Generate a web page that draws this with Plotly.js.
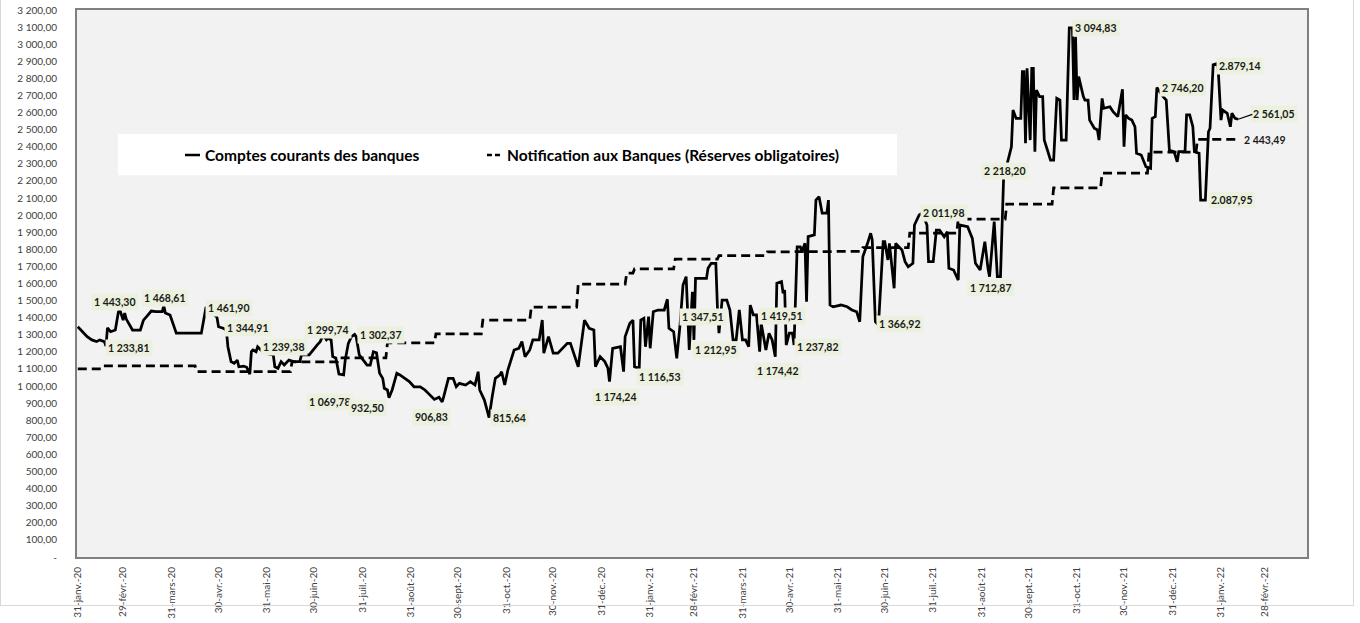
<!DOCTYPE html>
<html>
<head>
<meta charset="utf-8">
<script src="https://cdn.plot.ly/plotly-3.0.1.min.js"></script>
<style>
  html, body { margin: 0; padding: 0; background: #ffffff; }
  #wrap { position: relative; width: 1360px; height: 623px; }
  #chart { width: 1360px; height: 623px; }
  #frame { position: absolute; left: 0; top: -1px; width: 1352px; height: 605px;
           border: 1px solid #d9d9d9; pointer-events: none; }
</style>
</head>
<body>
<div id="wrap">
  <div id="chart"></div>
  <div id="frame"></div>
</div>
<script>
// ---- Comptes courants des banques (MD) ----
const ccDates = [
"2020-01-31","2020-02-02","2020-02-06","2020-02-09","2020-02-12","2020-02-14","2020-02-17","2020-02-18","2020-02-19","2020-02-21",
"2020-02-24","2020-02-26","2020-02-27","2020-02-29","2020-03-01","2020-03-02","2020-03-05","2020-03-06","2020-03-11","2020-03-13",
"2020-03-15","2020-03-18","2020-03-21","2020-03-25","2020-03-26","2020-03-27","2020-03-30","2020-04-01","2020-04-03","2020-04-19",
"2020-04-21","2020-04-22","2020-04-29","2020-04-30","2020-05-03","2020-05-05","2020-05-06","2020-05-08","2020-05-10","2020-05-12",
"2020-05-13","2020-05-16","2020-05-18","2020-05-20","2020-05-21","2020-05-22","2020-05-24","2020-05-25","2020-05-27","2020-05-29",
"2020-06-01","2020-06-04","2020-06-05","2020-06-07","2020-06-09","2020-06-11","2020-06-14","2020-06-17","2020-06-21","2020-06-22",
"2020-06-27","2020-06-30","2020-07-02","2020-07-04","2020-07-06","2020-07-08","2020-07-09","2020-07-11","2020-07-12","2020-07-14",
"2020-07-16","2020-07-19","2020-07-20","2020-07-22","2020-07-24","2020-07-26","2020-07-27","2020-07-29","2020-08-01","2020-08-03",
"2020-08-05","2020-08-07","2020-08-09","2020-08-11","2020-08-13","2020-08-14","2020-08-16","2020-08-17","2020-08-19","2020-08-22",
"2020-08-24","2020-08-27","2020-08-30","2020-09-02","2020-09-06","2020-09-09","2020-09-13","2020-09-15","2020-09-18","2020-09-20",
"2020-09-21","2020-09-24","2020-09-27","2020-09-29","2020-10-01","2020-10-05","2020-10-08","2020-10-11","2020-10-13","2020-10-14",
"2020-10-17","2020-10-20","2020-10-22","2020-10-24","2020-10-27","2020-10-28","2020-10-30","2020-11-01","2020-11-05","2020-11-08",
"2020-11-10","2020-11-12","2020-11-15","2020-11-17","2020-11-21","2020-11-23","2020-11-24","2020-11-27","2020-11-30","2020-12-03",
"2020-12-09","2020-12-11","2020-12-16","2020-12-20","2020-12-23","2020-12-26","2020-12-27","2020-12-30","2021-01-02","2021-01-04",
"2021-01-05","2021-01-07","2021-01-12","2021-01-14","2021-01-15","2021-01-18","2021-01-20","2021-01-21","2021-01-24","2021-01-25",
"2021-01-27","2021-01-28","2021-01-30","2021-01-31","2021-02-02","2021-02-05","2021-02-09","2021-02-11","2021-02-12","2021-02-15",
"2021-02-17","2021-02-19","2021-02-21","2021-02-23","2021-02-25","2021-02-27","2021-02-28","2021-03-01","2021-03-08","2021-03-09",
"2021-03-11","2021-03-14","2021-03-15","2021-03-16","2021-03-18","2021-03-21","2021-03-23","2021-03-25","2021-03-27","2021-03-29",
"2021-03-31","2021-04-02","2021-04-04","2021-04-05","2021-04-07","2021-04-09","2021-04-11","2021-04-12","2021-04-15","2021-04-17",
"2021-04-19","2021-04-21","2021-04-22","2021-04-25","2021-04-26","2021-04-27","2021-04-28","2021-04-30","2021-05-02","2021-05-03",
"2021-05-05","2021-05-07","2021-05-08","2021-05-10","2021-05-11","2021-05-12","2021-05-16","2021-05-17","2021-05-19","2021-05-21",
"2021-05-24","2021-05-25","2021-05-26","2021-05-28","2021-06-02","2021-06-06","2021-06-09","2021-06-12","2021-06-14","2021-06-16",
"2021-06-19","2021-06-21","2021-06-22","2021-06-24","2021-06-26","2021-06-29","2021-06-30","2021-07-02","2021-07-03","2021-07-06",
"2021-07-07","2021-07-09","2021-07-11","2021-07-13","2021-07-15","2021-07-18","2021-07-19","2021-07-22","2021-07-24","2021-07-27",
"2021-07-28","2021-07-31","2021-08-02","2021-08-04","2021-08-07","2021-08-09","2021-08-10","2021-08-13","2021-08-16","2021-08-17",
"2021-08-22","2021-08-25","2021-08-27","2021-08-30","2021-09-02","2021-09-04","2021-09-05","2021-09-08","2021-09-10","2021-09-12",
"2021-09-13","2021-09-14","2021-09-19","2021-09-20","2021-09-22","2021-09-25","2021-09-26","2021-09-27","2021-09-28","2021-09-29",
"2021-10-01","2021-10-02","2021-10-03","2021-10-04","2021-10-05","2021-10-07","2021-10-09","2021-10-10","2021-10-12","2021-10-14",
"2021-10-16","2021-10-18","2021-10-20","2021-10-21","2021-10-24","2021-10-25","2021-10-26","2021-10-28","2021-10-29","2021-10-30",
"2021-10-31","2021-11-01","2021-11-04","2021-11-05","2021-11-07","2021-11-08","2021-11-11","2021-11-13","2021-11-14","2021-11-16",
"2021-11-17","2021-11-21","2021-11-23","2021-11-26","2021-11-29","2021-11-30","2021-12-01","2021-12-03","2021-12-05","2021-12-07",
"2021-12-08","2021-12-11","2021-12-13","2021-12-14","2021-12-17","2021-12-18","2021-12-20","2021-12-21","2021-12-25","2021-12-27",
"2021-12-29","2022-01-01","2022-01-03","2022-01-04","2022-01-08","2022-01-09","2022-01-11","2022-01-13","2022-01-14","2022-01-17",
"2022-01-18","2022-01-21","2022-01-23","2022-01-24","2022-01-26","2022-01-29","2022-01-31","2022-02-01","2022-02-04","2022-02-06",
"2022-02-07","2022-02-09","2022-02-11"
];
const ccValues = [
1347,1328,1289,1270,1260,1270,1260,1234,1340,1318,
1328,1435,1443,1386,1427,1392,1347,1328,1328,1386,
1406,1439,1435,1435,1469,1427,1416,1357,1309,1309,
1427,1462,1402,1347,1338,1328,1230,1143,1133,1152,
1113,1117,1110,1070,1201,1211,1201,1230,1211,1239,
1188,1182,1113,1104,1143,1123,1152,1143,1143,1182,
1182,1221,1240,1260,1300,1270,1279,1270,1172,1164,
1070,1065,1152,1250,1289,1302,1289,1182,1143,1123,
1123,1201,1195,1075,1045,987,977,932,977,1075,
1065,1045,1026,996,996,977,938,922,934,907,
938,1045,1045,996,1016,1006,1026,1006,1084,977,
918,816,938,1045,1065,1084,1006,1094,1211,1221,
1260,1172,1211,1270,1270,1386,1192,1289,1192,1192,
1250,1250,1113,1386,1338,1328,1113,1172,1143,1104,
1026,1221,1230,1084,1289,1367,1386,1113,1104,1386,
1396,1230,1406,1221,1435,1445,1445,1508,1338,1318,
1162,1347,1591,1640,1211,1552,1270,1630,1630,1689,
1718,1718,1464,1309,1503,1503,1445,1270,1270,1445,
1270,1270,1230,1474,1416,1416,1201,1367,1211,1309,
1270,1172,1601,1611,1543,1562,1240,1309,1309,1240,
1815,1815,1786,1835,1493,1874,1884,2088,2108,2011,
2011,2088,1474,1464,1474,1464,1445,1435,1376,1757,
1835,1894,1855,1376,1357,1845,1845,1738,1835,1572,
1835,1815,1796,1728,1698,1718,1942,2001,2012,1942,
1728,1728,1913,1913,1874,1903,1689,1679,1620,1942,
1932,1864,1718,1679,1845,1689,1640,1962,1640,1640,
1932,2218,2400,2615,2566,2566,2839,2839,2420,2859,
2439,2859,2859,2371,2732,2693,2693,2439,2381,2322,
2322,2683,2673,2439,2439,2810,3095,3095,2673,3044,
2673,2810,2693,2673,2673,2556,2508,2498,2439,2683,
2625,2634,2605,2576,2736,2400,2586,2566,2556,2517,
2362,2352,2303,2283,2274,2566,2576,2746,2693,2673,
2381,2371,2312,2371,2371,2586,2586,2517,2371,2362,
2088,2088,2488,2508,2879,2888,2556,2615,2596,2517,
2596,2566,2561
];

// ---- Notification aux Banques (Réserves obligatoires) ----
const nrDates = [
"2020-01-31","2020-02-15","2020-02-16","2020-04-15","2020-04-16","2020-06-15","2020-06-16","2020-07-15",
"2020-07-16","2020-08-15","2020-08-16","2020-09-15","2020-09-16","2020-10-15","2020-10-16","2020-11-15",
"2020-11-16","2020-12-15","2020-12-16","2021-01-15","2021-01-16","2021-01-20","2021-01-21","2021-02-15",
"2021-02-16","2021-03-15","2021-03-16","2021-04-15","2021-04-16","2021-06-15","2021-06-16","2021-07-15",
"2021-07-16","2021-08-15","2021-08-16","2021-09-15","2021-09-16","2021-10-15","2021-10-16","2021-11-15",
"2021-11-16","2021-12-15","2021-12-16","2022-01-15","2022-01-16","2022-02-11"
];
const nrValues = [
1100,1100,1118,1118,1085,1085,1142,1142,
1165,1165,1252,1252,1305,1305,1386,1386,
1462,1462,1597,1597,1661,1661,1685,1685,
1743,1743,1763,1763,1785,1788,1810,1810,
1895,1895,1977,1977,2065,2065,2159,2159,
2246,2246,2369,2369,2443.49,2443.49
];

// ---- Series names ----
const seriesNames = ["Comptes courants des banques", "Notification aux Banques (Réserves obligatoires)"];

// ---- Axis ticks ----
const xTickDates = ["2020-01-31","2020-02-29","2020-03-31","2020-04-30","2020-05-31","2020-06-30","2020-07-31",
  "2020-08-31","2020-09-30","2020-10-31","2020-11-30","2020-12-31","2021-01-31","2021-02-28","2021-03-31",
  "2021-04-30","2021-05-31","2021-06-30","2021-07-31","2021-08-31","2021-09-30","2021-10-31","2021-11-30",
  "2021-12-31","2022-01-31","2022-02-28"];
const xTickLabels = ["31-janv.-20","29-févr.-20","31-mars-20","30-avr.-20","31-mai-20","30-juin-20","31-juil.-20",
  "31-août-20","30-sept.-20","31-oct.-20","30-nov.-20","31-déc.-20","31-janv.-21","28-févr.-21","31-mars-21",
  "30-avr.-21","31-mai-21","30-juin-21","31-juil.-21","31-août-21","30-sept.-21","31-oct.-21","30-nov.-21",
  "31-déc.-21","31-janv.-22","28-févr.-22"];
const yTickValues = [0,100,200,300,400,500,600,700,800,900,1000,1100,1200,1300,1400,1500,1600,1700,1800,1900,
  2000,2100,2200,2300,2400,2500,2600,2700,2800,2900,3000,3100,3200];
const yTickLabels = ["-","100,00","200,00","300,00","400,00","500,00","600,00","700,00","800,00","900,00",
  "1 000,00","1 100,00","1 200,00","1 300,00","1 400,00","1 500,00","1 600,00","1 700,00","1 800,00","1 900,00",
  "2 000,00","2 100,00","2 200,00","2 300,00","2 400,00","2 500,00","2 600,00","2 700,00","2 800,00","2 900,00",
  "3 000,00","3 100,00","3 200,00"];

// ---- Data labels ----
const labelTexts = ["1 443,30","1 468,61","1 233,81","1 461,90","1 344,91","1 239,38","1 299,74","1 069,78",
  "932,50","1 302,37","906,83","815,64","1 174,24","1 116,53","1 347,51","1 212,95","1 419,51","1 174,42",
  "1 237,82","1 366,92","2 011,98","1 712,87","2 218,20","3 094,83","2 746,20","2.879,14","2 561,05","2 443,49","2.087,95"];
const labelDates = ["2020-02-24","2020-03-27","2020-03-04","2020-05-07","2020-05-19","2020-06-11","2020-07-09","2020-07-10",
  "2020-08-03","2020-08-12","2020-09-13","2020-11-02","2021-01-09","2021-02-06","2021-03-06","2021-03-14","2021-04-25","2021-04-23",
  "2021-05-18","2021-07-10","2021-08-07","2021-09-06","2021-09-15","2021-11-12","2022-01-07","2022-02-12","2022-03-06","2022-02-28","2022-02-07"];
const labelValues = [1492,1515,1223,1457,1340,1229,1328,907,
  872,1299,819,813,936,1053,1404,1211,1410,1088,
  1229,1363,2012,1574,2258,3095,2744,2872,2592,2439,2088];
const labelNoBg = ["2 443,49"];

const FONT = "Lato, 'Open Sans', sans-serif";

const traces = [
  { type: "scatter", mode: "lines", name: seriesNames[0],
    x: ccDates, y: ccValues, line: { color: "#000000", width: 2.75 }, hoverinfo: "x+y" },
  { type: "scatter", mode: "lines", name: seriesNames[1],
    x: nrDates, y: nrValues, line: { color: "#000000", width: 2.75, dash: "9px,5px" }, hoverinfo: "x+y" }
];

const annotations = labelTexts.map((t, i) => ({
  x: labelDates[i], y: labelValues[i], xref: "x", yref: "y", text: t, showarrow: false,
  font: { family: FONT, size: 10.5, color: "#1a1a1a", weight: 700 },
  bgcolor: labelNoBg.includes(t) ? "rgba(0,0,0,0)" : "#ebf1de", borderpad: 2
}));

// leader line from the last point of the series to its label
const lastIdx = ccDates.length - 1;
annotations.push({
  x: ccDates[lastIdx], y: ccValues[lastIdx], xref: "x", yref: "y",
  ax: "2022-02-21", ay: 2592, axref: "x", ayref: "y", text: "", showarrow: true,
  arrowhead: 0, arrowwidth: 1.2, arrowcolor: "#000000", standoff: 0, startstandoff: 0
});

// legend (drawn as a box with two sample lines and two texts)
const LEG_Y = 0.7349;
annotations.push(
  { xref: "paper", yref: "paper", x: 0.1024, y: LEG_Y, xanchor: "left", yanchor: "middle", showarrow: false,
    text: seriesNames[0], font: { family: FONT, size: 15.5, color: "#000000", weight: 700 } },
  { xref: "paper", yref: "paper", x: 0.348, y: LEG_Y, xanchor: "left", yanchor: "middle", showarrow: false,
    text: seriesNames[1], font: { family: FONT, size: 15.5, color: "#000000", weight: 700 } }
);

const layout = {
  width: 1360, height: 623,
  margin: { l: 77, r: 53, t: 10, b: 66 },
  paper_bgcolor: "#ffffff", plot_bgcolor: "#f2f2f2",
  font: { family: FONT, color: "#404040" },
  showlegend: false,
  xaxis: { type: "date", range: ["2020-01-30 12:00", "2022-03-27"], tickmode: "array",
    tickvals: xTickDates, ticktext: xTickLabels, tickangle: -90, tickfont: { size: 10, color: "#404040", family: FONT },
    showgrid: false, zeroline: false, showline: true, mirror: true, linecolor: "#808080", linewidth: 2,
    ticks: "", ticklabelstandoff: 4 },
  yaxis: { range: [0, 3200], tickmode: "array", tickvals: yTickValues, ticktext: yTickLabels,
    tickfont: { size: 10, color: "#404040", family: FONT }, showgrid: false, zeroline: false,
    showline: true, mirror: true, linecolor: "#808080", linewidth: 2, ticks: "", ticklabelstandoff: 16 },
  shapes: [
    { type: "rect", xref: "paper", yref: "paper", x0: 0.0333, x1: 0.6667, y0: 0.698, y1: 0.7733,
      fillcolor: "#ffffff", line: { width: 0 }, layer: "below" },
    { type: "line", xref: "paper", yref: "paper", x0: 0.0878, x1: 0.1, y0: LEG_Y, y1: LEG_Y,
      line: { color: "#000000", width: 2.5 } },
    { type: "line", xref: "paper", yref: "paper", x0: 0.3333, x1: 0.3463, y0: LEG_Y, y1: LEG_Y,
      line: { color: "#000000", width: 2.5, dash: "5px,3px" } }
  ],
  annotations: annotations
};

Plotly.newPlot("chart", traces, layout, { displayModeBar: false, staticPlot: true });
</script>
</body>
</html>
